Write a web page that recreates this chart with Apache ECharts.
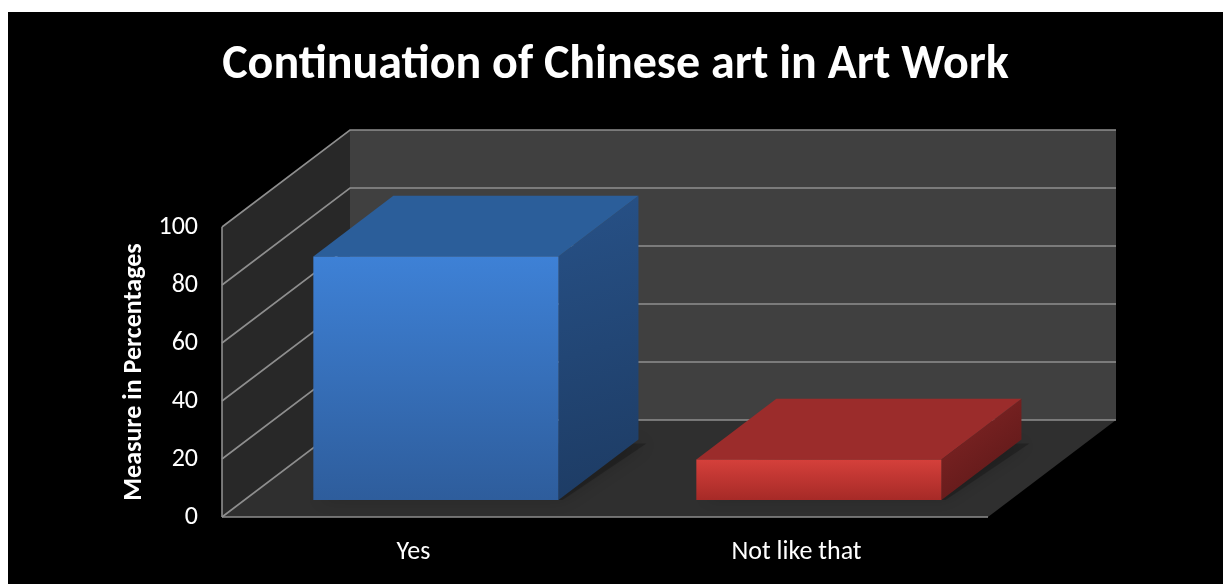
<!DOCTYPE html>
<html>
<head>
<meta charset="utf-8">
<script src="https://cdn.jsdelivr.net/npm/echarts@6/dist/echarts.min.js"></script>
<style>
  html, body { margin: 0; padding: 0; background: #ffffff; width: 1223px; height: 584px; overflow: hidden; }
  #chart { position: absolute; left: 8px; top: 12px; width: 1215px; height: 572px; background: #000000; }
</style>
</head>
<body>
<div id="chart"></div>
<script>
// Survey results (percent of respondents)
const categories = ['Yes', 'Not like that'];
const values = [84, 14];
const yTicks = [0, 20, 40, 60, 80, 100];

// Face colours for each box: front gradient, top, side gradient
const faceColors = [
  { front: ['#3e81d6', '#2e5d9c'], top: '#2b5e9a', side: ['#275187', '#1d3b63'] },
  { front: ['#d5403b', '#a62a27'], top: '#9b2c2b', side: ['#852626', '#571616'] }
];

// Oblique projection used for the pseudo-3D look
const DX = 128, DY = -97;        // offset from front plane to back wall, px
const F0 = 0.175, F1 = 0.80;     // box depth span as fraction of the floor depth
const BAR_WIDTH = 0.64;          // box width as fraction of the category band

const FONT = 'Carlito, Calibri, Lato, sans-serif';

function shift(pt, f) { return [pt[0] + DX * f, pt[1] + DY * f]; }

function renderFrame(params, api) {
  const cs = params.coordSys;
  const L = cs.x, R = cs.x + cs.width, T = cs.y, B = cs.y + cs.height;
  const children = [];
  // back wall
  children.push({ type: 'polygon', shape: { points: [shift([L, T], 1), shift([R, T], 1), shift([R, B], 1), shift([L, B], 1)] },
    style: { fill: '#404040' } });
  // side wall
  children.push({ type: 'polygon', shape: { points: [[L, T], shift([L, T], 1), shift([L, B], 1), [L, B]] },
    style: { fill: '#282828' } });
  // floor
  children.push({ type: 'polygon', shape: { points: [[L, B], [R, B], shift([R, B], 1), shift([L, B], 1)] },
    style: { fill: '#2f2f2f' } });
  // gridlines wrapping side wall and back wall
  yTicks.forEach(function (v) {
    const y = api.coord([0, v])[1];
    children.push({ type: 'polyline', shape: { points: [[L, y], shift([L, y], 1), shift([R, y], 1)] },
      style: { stroke: '#8e8e8e', lineWidth: 1.6, fill: null } });
  });
  // front edges
  children.push({ type: 'line', shape: { x1: L, y1: T, x2: L, y2: B }, style: { stroke: '#8e8e8e', lineWidth: 1.6 } });
  children.push({ type: 'line', shape: { x1: L, y1: B, x2: R, y2: B }, style: { stroke: '#8e8e8e', lineWidth: 1.6 } });
  return { type: 'group', children: children };
}

function renderBox(params, api) {
  const i = api.value(0), v = api.value(1);
  const base = api.coord([i, 0]);
  const top = api.coord([i, v]);
  const bw = api.size([1, 0])[0] * BAR_WIDTH;
  const x0 = base[0] - bw / 2 + DX * F0;
  const x1 = x0 + bw;
  const yb = base[1] + DY * F0;
  const yt = top[1] + DY * F0;
  const ddx = DX * (F1 - F0), ddy = DY * (F1 - F0);
  const c = faceColors[i];
  return {
    type: 'group',
    children: [
      { // soft shadow on the floor
        type: 'polygon',
        shape: { points: [[x0 + 4, yb], [x1 + 4, yb], [x1 + ddx + 8, yb + ddy + 4], [x0 + ddx + 4, yb + ddy + 4]] },
        style: { fill: 'rgba(0,0,0,0.22)', shadowBlur: 16, shadowColor: 'rgba(0,0,0,0.7)' }
      },
      { // side face
        type: 'polygon',
        shape: { points: [[x1, yb], [x1, yt], [x1 + ddx, yt + ddy], [x1 + ddx, yb + ddy]] },
        style: { fill: { type: 'linear', x: 0, y: 0, x2: 1, y2: 1,
          colorStops: [{ offset: 0, color: c.side[0] }, { offset: 1, color: c.side[1] }] } }
      },
      { // top face
        type: 'polygon',
        shape: { points: [[x0, yt], [x1, yt], [x1 + ddx, yt + ddy], [x0 + ddx, yt + ddy]] },
        style: { fill: c.top }
      },
      { // front face
        type: 'rect',
        shape: { x: x0, y: yt, width: bw, height: yb - yt },
        style: { fill: { type: 'linear', x: 0, y: 0, x2: 0, y2: 1,
          colorStops: [{ offset: 0, color: c.front[0] }, { offset: 1, color: c.front[1] }] } }
      }
    ]
  };
}

const chart = echarts.init(document.getElementById('chart'), null, { renderer: 'canvas' });
chart.setOption({
  backgroundColor: '#000000',
  animation: false,
  title: {
    text: 'Continuation of Chinese art in Art Work',
    left: 'center',
    top: 25,
    textStyle: { color: '#ffffff', fontFamily: FONT, fontWeight: 'bold', fontSize: 48 }
  },
  grid: { left: 214, right: 235, top: 215, bottom: 67 },
  xAxis: {
    type: 'category',
    data: categories,
    axisLine: { show: false },
    axisTick: { show: false },
    splitLine: { show: false },
    axisLabel: { color: '#ffffff', fontFamily: FONT, fontSize: 26, margin: 22 }
  },
  yAxis: {
    type: 'value',
    min: 0,
    max: 100,
    interval: 20,
    axisLine: { show: false },
    axisTick: { show: false },
    splitLine: { show: false },
    axisLabel: { color: '#ffffff', fontFamily: FONT, fontSize: 26, margin: 24 },
    name: 'Measure in Percentages',
    nameLocation: 'middle',
    nameGap: 74,
    nameTextStyle: { color: '#ffffff', fontFamily: FONT, fontWeight: 'bold', fontSize: 26 }
  },
  series: [
    {
      type: 'custom',
      name: 'frame',
      silent: true,
      z: 1,
      renderItem: renderFrame,
      data: [[0, 0]]
    },
    {
      type: 'custom',
      name: 'Percentage',
      z: 2,
      renderItem: renderBox,
      encode: { x: 0, y: 1 },
      data: values.map(function (v, i) { return [i, v]; })
    }
  ]
});
</script>
</body>
</html>
